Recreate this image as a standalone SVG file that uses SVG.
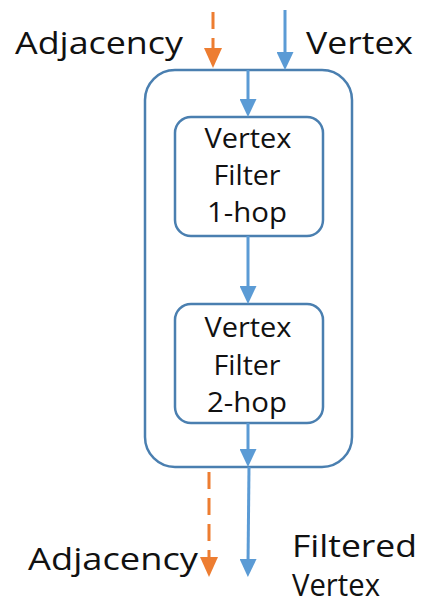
<svg xmlns="http://www.w3.org/2000/svg" width="422" height="604" viewBox="0 0 422 604">
  <style>
    .frame { fill: #ffffff; stroke: #4a7fb0; stroke-width: 2.5; }
    .flow { stroke: #5b9bd5; stroke-width: 3; fill: none; }
    .adj { stroke: #ed7d31; stroke-width: 3; fill: none; stroke-dasharray: 17 9; }
    text { font-family: "Open Sans", "Liberation Sans", sans-serif; fill: #111111; }
    .lbl { font-size: 31px; }
    .in { font-size: 28px; text-anchor: middle; }
  </style>
  <defs>
    <marker id="arrowBlue" markerUnits="userSpaceOnUse" markerWidth="18" markerHeight="17" viewBox="0 0 18 17" refX="6" refY="8.5" orient="auto">
      <path d="M0,0 L18,8.5 L0,17 z" fill="#5b9bd5"/>
    </marker>
    <marker id="arrowOrange" markerUnits="userSpaceOnUse" markerWidth="20" markerHeight="18" viewBox="0 0 20 18" refX="6" refY="9" orient="auto">
      <path d="M0,0 L20,9 L0,18 z" fill="#ed7d31"/>
    </marker>
  </defs>

  <!-- outer container -->
  <g id="container">
    <rect class="frame" x="145" y="70" width="207" height="397" rx="30" ry="30"/>
  </g>

  <g id="filter1">
    <rect class="frame" x="175" y="117" width="148" height="119" rx="16" ry="16"/>
    <text class="in" x="248" y="148" textLength="87" lengthAdjust="spacingAndGlyphs">Vertex</text>
    <text class="in" x="247" y="185" textLength="67" lengthAdjust="spacingAndGlyphs">Filter</text>
    <text class="in" x="247" y="222" textLength="80" lengthAdjust="spacingAndGlyphs">1-hop</text>
  </g>

  <g id="filter2">
    <rect class="frame" x="175" y="304" width="148" height="119" rx="16" ry="16"/>
    <text class="in" x="248" y="337" textLength="87" lengthAdjust="spacingAndGlyphs">Vertex</text>
    <text class="in" x="247" y="375" textLength="67" lengthAdjust="spacingAndGlyphs">Filter</text>
    <text class="in" x="247" y="412" textLength="80" lengthAdjust="spacingAndGlyphs">2-hop</text>
  </g>

  <g id="labels">
    <text class="lbl" x="15" y="54" textLength="168" lengthAdjust="spacingAndGlyphs">Adjacency</text>
    <text class="lbl" x="306" y="54" textLength="107" lengthAdjust="spacingAndGlyphs">Vertex</text>
    <text class="lbl" x="28" y="570" textLength="170" lengthAdjust="spacingAndGlyphs">Adjacency</text>
    <text class="lbl" x="292" y="557" font-size="34" textLength="125" lengthAdjust="spacingAndGlyphs">Filtered</text>
    <text class="lbl" x="292" y="596" font-size="25" textLength="88" lengthAdjust="spacingAndGlyphs">Vertex</text>
  </g>

  <!-- connectors -->
  <g id="connectors">
    <line class="flow" x1="285" y1="10" x2="285" y2="58" marker-end="url(#arrowBlue)"/>
    <line class="flow" x1="248" y1="70" x2="248" y2="105" marker-end="url(#arrowBlue)"/>
    <line class="flow" x1="248" y1="236" x2="248" y2="292" marker-end="url(#arrowBlue)"/>
    <line class="flow" x1="248" y1="423" x2="248" y2="455" marker-end="url(#arrowBlue)"/>
    <line class="flow" x1="249" y1="467" x2="248" y2="565" marker-end="url(#arrowBlue)"/>
    <line class="adj" x1="213" y1="12" x2="213" y2="54" stroke-dasharray="16 12" marker-end="url(#arrowOrange)"/>
    <line class="adj" x1="209" y1="472" x2="209" y2="563" stroke-dasharray="17 8" marker-end="url(#arrowOrange)"/>
  </g>
</svg>
